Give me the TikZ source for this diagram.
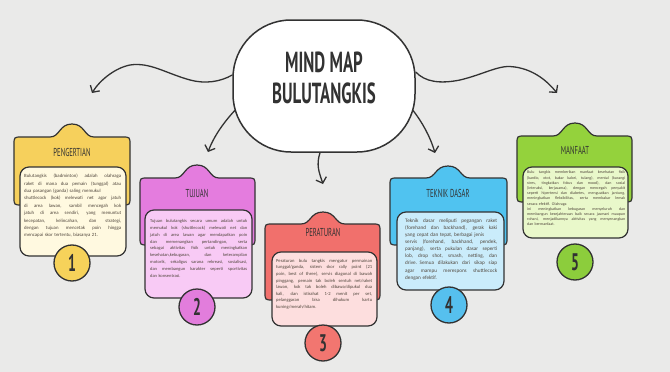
\documentclass[tikz,border=0pt]{standalone}
\usepackage{fontspec}
\setmainfont{Carlito}
\newfontfamily\condfont[FakeStretch=0.58]{PT Sans}
\usetikzlibrary{arrows.meta,calc}
\definecolor{bg}{RGB}{234,234,233}
\definecolor{ink}{RGB}{50,50,50}
\definecolor{txt}{RGB}{80,70,60}
\definecolor{yH}{RGB}{246,208,92}\definecolor{yP}{RGB}{255,249,224}\definecolor{yC}{RGB}{246,210,90}
\definecolor{mH}{RGB}{228,124,222}\definecolor{mP}{RGB}{248,202,245}\definecolor{mC}{RGB}{226,125,220}
\definecolor{rH}{RGB}{241,112,108}\definecolor{rP}{RGB}{253,222,222}\definecolor{rC}{RGB}{242,118,112}
\definecolor{bH}{RGB}{80,195,240}\definecolor{bP}{RGB}{202,236,251}\definecolor{bC}{RGB}{86,192,238}
\definecolor{gH}{RGB}{148,210,60}\definecolor{gP}{RGB}{233,248,202}\definecolor{gC}{RGB}{140,205,60}
\newlength\lw
\newcommand\jl[1]{{\spaceskip=.25em plus 6em minus .05em\makebox[\lw][s]{#1}}\par}
\newcommand\rl[1]{\mbox{#1}\par}
% header: xc, xl, xr, ytab, ytop, ybot, color
\newcommand\hdr[7]{%
\draw[ln, fill=#7] (#2,#6-8) -- (#2,#5+8) .. controls (#2,#5) .. (#2+8,#5)
 -- (#1-22,#5) .. controls (#1-12,#5) and (#1-13,#4) .. (#1,#4)
 .. controls (#1+13,#4) and (#1+12,#5) .. (#1+22,#5)
 -- (#3-8,#5) .. controls (#3,#5) .. (#3,#5+8) -- (#3,#6-8)
 .. controls (#3,#6) .. (#3-8,#6) -- (#2+8,#6) .. controls (#2,#6) .. (#2,#6-8) -- cycle;}
\tikzset{
 ln/.style={draw=ink, line width=1.2pt},
 panelbox/.style={draw=ink, line width=1.2pt, rounded corners=9pt, inner sep=0pt},
 body/.style={inner sep=0pt, anchor=north west, text=txt},
 numc/.style={circle, draw=ink, line width=1.3pt, minimum size=36pt, inner sep=0pt, text=ink,
   font=\condfont\bfseries\fontsize{24}{24}\selectfont},
 boxtitle/.style={inner sep=0pt, text=ink, font=\condfont\fontsize{11.5}{11.5}\selectfont},
 arr/.style={draw=ink, line width=1.3pt, line cap=round, -{Straight Barb[length=5pt,width=11pt]}}
}
\begin{document}
\begin{tikzpicture}[x=1pt,y=-1pt]
\fill[bg] (0,0) rectangle (670,372);
\useasboundingbox (0,0) rectangle (670,372);

% central bubble
\node[draw=ink, line width=1.5pt, fill=white, rounded corners=58pt, minimum width=182pt, minimum height=132pt] (hub) at (324,86) {};
\node[inner sep=0pt, align=center, text=ink, font=\condfont\bfseries\fontsize{29}{31}\selectfont] (title) at (324,78) {MIND MAP\\BULUTANGKIS};

% arrow ends
\coordinate (e1) at (92,93);
\coordinate (e2) at (208,152);
\coordinate (e3) at (323,184);
\coordinate (e4) at (435,153);
\coordinate (e5) at (557,93);

\draw[arr] ($(hub.west)+(0,-11)$) .. controls (220,82) and (205,84) .. (190,80)
  .. controls (165,73) and (150,62) .. (130,65) .. controls (115,68) and (100,80) .. (e1);
\draw[arr] ($(hub.west)+(3,24)$) .. controls (224,122) and (214,136) .. (e2);
\draw[arr] ($(hub.south)+(-4,0)$) .. controls (316,165) and (319,172) .. (e3);
\draw[arr] ($(hub.east)+(-3,24)$) .. controls (422,122) and (430,136) .. (e4);
\draw[arr] ($(hub.east)+(0,-14)$) .. controls (425,82) and (440,84) .. (460,80)
  .. controls (485,74) and (500,64) .. (515,67) .. controls (535,70) and (548,82) .. (e5);

% box 1
\hdr{72}{14}{130}{124}{137}{205}{yH}
\node[panelbox, fill=yP, minimum width=106pt, minimum height=89pt] (p1) at (73,211.5) {};
\node[boxtitle] (h1) at (72,152) {PENGERTIAN};
\node[body, text width=97pt, font=\fontsize{4.8}{7.4}\selectfont\setlength\lw{97pt}] (t1) at (24,174) {%
\jl{Bulutangkis (badminton) adalah olahraga}
\jl{raket di mana dua pemain (tunggal) atau}
\rl{dua pasangan (ganda) saling memukul}
\jl{shuttlecock (kok) melewati net agar jatuh}
\jl{di area lawan, sambil mencegah kok}
\jl{jatuh di area sendiri, yang menuntut}
\jl{kecepatan, kelincahan, dan strategi,}
\jl{dengan tujuan mencetak poin hingga}
\rl{mencapai skor tertentu, biasanya 21.}};
\node[numc, fill=yC] (n1) at (72,263) {1};

% box 2
\hdr{197}{140}{255}{165}{178}{245}{mH}
\node[panelbox, fill=mP, minimum width=107pt, minimum height=88pt] (p2) at (198.5,254) {};
\node[boxtitle] (h2) at (197,193) {TUJUAN};
\node[body, text width=97pt, font=\fontsize{4.5}{6.9}\selectfont\setlength\lw{97pt}] (t2) at (150,219) {%
\jl{Tujuan bulutangkis secara umum adalah untuk}
\jl{memukul kok (shuttlecock) melewati net dan}
\jl{jatuh di area lawan agar mendapatkan poin}
\jl{dan memenangkan pertandingan, serta}
\jl{sebagai aktivitas fisik untuk meningkatkan}
\jl{kesehatan,kebugaran, dan keterampilan}
\jl{motorik, sekaligus sarana rekreasi, sosialisasi,}
\jl{dan membangun karakter seperti sportivitas}
\rl{dan konsentrasi.}};
\node[numc, fill=mC] (n2) at (197,307) {2};

% box 3
\hdr{323}{265}{380}{212}{224}{300}{rH}
\node[panelbox, fill=rP, minimum width=105pt, minimum height=74pt] (p3) at (324.5,289) {};
\node[boxtitle] (h3) at (323,232) {PERATURAN};
\node[body, text width=96pt, font=\fontsize{4.6}{6.6}\selectfont\setlength\lw{96pt}] (t3) at (276,259) {%
\jl{Peraturan bulu tangkis mengatur permainan}
\jl{tunggal/ganda, sistem skor rally point (21}
\jl{poin, best of three), servis diagonal di bawah}
\jl{pinggang, pemain tak boleh sentuh net/raket}
\jl{lawan, kok tak boleh dibawa/dipukul dua}
\jl{kali, dan istirahat 1-2 menit per set,}
\jl{pelanggaran bisa dihukum kartu}
\rl{kuning/merah/hitam.}};
\node[numc, fill=rC] (n3) at (323,343) {3};

% box 4
\hdr{448}{390}{507}{166}{178}{245}{bH}
\node[panelbox, fill=bP, minimum width=107pt, minimum height=78pt] (p4) at (450.5,251) {};
\node[boxtitle] (h4) at (448,193) {TEKNIK DASAR};
\node[body, text width=92pt, font=\fontsize{5.2}{7.1}\selectfont\setlength\lw{92pt}] (t4) at (405,218.5) {%
\jl{Teknik dasar meliputi pegangan raket}
\jl{(forehand dan backhand), gerak kaki}
\rl{yang cepat dan tepat, berbagai jenis}
\jl{servis (forehand, backhand, pendek,}
\jl{panjang), serta pukulan dasar seperti}
\jl{lob, drop shot, smash, netting, dan}
\jl{drive. Semua dilakukan dari sikap siap}
\jl{agar mampu merespons shuttlecock}
\rl{dengan efektif.}};
\node[numc, fill=bC] (n4) at (449,305) {4};

% box 5
\hdr{575}{517}{632}{123}{136}{202}{gH}
\node[panelbox, fill=gP, minimum width=105pt, minimum height=71pt] (p5) at (575.5,202.5) {};
\node[boxtitle] (h5) at (575,150) {MANFAAT};
\node[body, text width=98pt, font=\fontsize{4.0}{5.2}\selectfont\setlength\lw{98pt}] (t5) at (527,171) {%
\jl{Bulu tangkis memberikan manfaat kesehatan fisik}
\jl{(kardio, otot, bakar kalori, tulang), mental (kurangi}
\jl{stres, tingkatkan fokus dan mood), dan sosial}
\jl{(interaksi, kerjasama), dengan mencegah penyakit}
\jl{seperti hipertensi dan diabetes, menguatkan jantung,}
\jl{meningkatkan fleksibilitas, serta membakar lemak}
\rl{secara efektif. Olahraga}
\jl{ini meningkatkan kebugaran menyeluruh dan}
\jl{membangun kesejahteraan baik secara jasmani maupun}
\jl{rohani, menjadikannya aktivitas yang menyenangkan}
\rl{dan bermanfaat.}};
\node[numc, fill=gC] (n5) at (575,262) {5};
\end{tikzpicture}
\end{document}
